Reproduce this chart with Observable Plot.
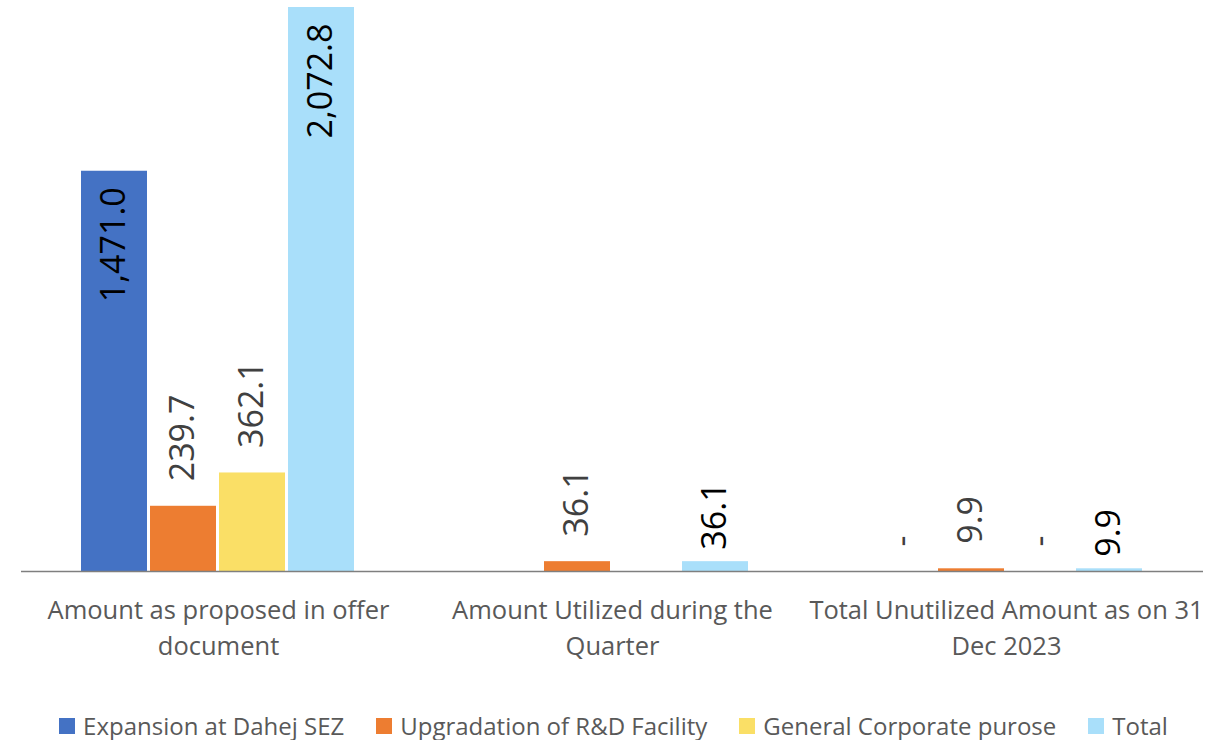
<!DOCTYPE html>
<html><head><meta charset="utf-8">
<script src="https://cdn.jsdelivr.net/npm/d3@7"></script>
<script src="https://cdn.jsdelivr.net/npm/@observablehq/plot@0.6"></script>
<style>
body{margin:0;background:#fff;font-family:"Open Sans",sans-serif;}
#legend{display:flex;justify-content:center;gap:32px;font-size:24px;color:#595959;margin-top:10px;line-height:32px;}
.item{display:flex;align-items:center;gap:8px;white-space:nowrap}
.sw{width:16px;height:16px;display:inline-block}
</style></head><body><div id="chart"></div><div id="legend"></div>
<script>
const categories = ["Amount as proposed in offer document", "Amount Utilized during the Quarter", "Total Unutilized Amount as on 31 Dec 2023"];
const categoryLabels = ["Amount as proposed in offer\ndocument", "Amount Utilized during the\nQuarter", "Total Unutilized Amount as on 31\nDec 2023"];
const seriesNames = ["Expansion at Dahej SEZ", "Upgradation of R&D Facility", "General Corporate purose", "Total"];
const expansion = [1471.0, null, 0];
const rnd = [239.7, 36.1, 9.9];
const general = [362.1, null, 0];
const total = [2072.8, 36.1, 9.9];
const colors = ["#4472C4", "#ED7D31", "#FADF66", "#A9DFFA"];

const seriesValues = [expansion, rnd, general, total];
const rows = [];
seriesNames.forEach((s, si) => {
  categories.forEach((c, ci) => {
    const v = seriesValues[si][ci];
    if (v !== null) rows.push({cat: c, series: s, value: v, si});
  });
});
const maxV = d3.max(rows, d => d.value);
const fmt = d => d === 0 ? "-" : d3.format(",.1f")(d);
const darkSeries = new Set([0, 3]);
const inside = rows.filter(d => darkSeries.has(d.si) && d.value / maxV > 0.2);
const outsideGray = rows.filter(d => !darkSeries.has(d.si) || d.value === 0);
const outsideBlack = rows.filter(d => darkSeries.has(d.si) && d.value > 0 && d.value / maxV <= 0.2);

const textOpts = {fx: "cat", x: "series", y: "value", text: d => fmt(d.value), rotate: -90, fontSize: 34, lineAnchor: "middle"};

const chart = Plot.plot({
  width: 1227,
  height: 700,
  marginTop: 7,
  marginBottom: 129,
  marginLeft: 20,
  marginRight: 24,
  style: {fontFamily: "Open Sans", background: "white"},
  fx: {domain: categories, padding: 0, label: null},
  x: {domain: seriesNames, paddingInner: 0.04, paddingOuter: 0.855, axis: null},
  y: {domain: [0, maxV], axis: null},
  color: {domain: seriesNames, range: colors},
  marks: [
    Plot.barY(rows, {fx: "cat", x: "series", y: "value", fill: "series"}),
    Plot.ruleY([0], {stroke: "#7f7f7f", strokeWidth: 1.5}),
    Plot.text(inside, {...textOpts, textAnchor: "end", dy: 16, fill: "#000"}),
    Plot.text(outsideGray, {...textOpts, textAnchor: "start", dy: -25, fill: "#404040"}),
    Plot.text(outsideBlack, {...textOpts, textAnchor: "start", dy: -12, fill: "#000"}),
    Plot.axisFx({anchor: "bottom", tickSize: 0, tickPadding: 22, lineHeight: 1.42, fontSize: 25.5, color: "#595959", label: null,
      tickFormat: d => categoryLabels[categories.indexOf(d)]})
  ]
});
document.getElementById("chart").appendChild(chart);

const legend = document.getElementById("legend");
seriesNames.forEach((s, i) => {
  const item = document.createElement("div");
  item.className = "item";
  const sw = document.createElement("span");
  sw.className = "sw";
  sw.style.background = colors[i];
  const t = document.createElement("span");
  t.textContent = s;
  item.appendChild(sw); item.appendChild(t);
  legend.appendChild(item);
});
</script></body></html>
